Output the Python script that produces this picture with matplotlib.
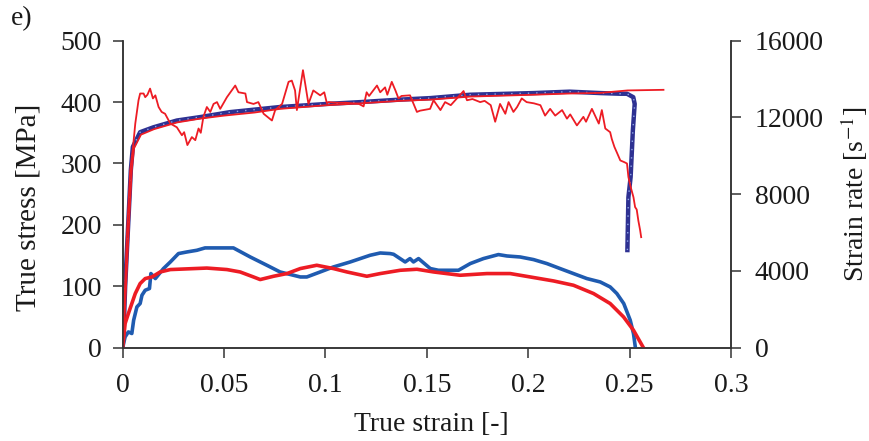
import matplotlib
matplotlib.use("Agg")
import matplotlib.pyplot as plt

plt.rcParams['font.family'] = ['Liberation Serif', 'DejaVu Serif']
plt.rcParams['mathtext.fontset'] = 'stix'

# stress curves (left axis, MPa)
blue_stress_x = [0, 0.0005, 0.0012, 0.0028, 0.004, 0.005, 0.0086, 0.0152, 0.0267, 0.0382,
                 0.0481, 0.053, 0.0776, 0.1007, 0.1173, 0.1365, 0.1517, 0.1714, 0.2026,
                 0.2204, 0.2356, 0.2454, 0.2487, 0.2518, 0.2525, 0.2516, 0.2505, 0.2494, 0.2489]
blue_stress_y = [0, 30, 99, 207, 289, 327, 351, 359, 370, 375.6,
                 381, 383.7, 392, 397, 400, 404, 406.5, 412, 414.7,
                 417, 414.7, 413.6, 413.6, 408, 397, 354, 278, 245, 159]

red_fit_x = [0, 0.0008, 0.0018, 0.0033, 0.0045, 0.0056, 0.009, 0.0155, 0.027, 0.038, 0.05,
             0.065, 0.0776, 0.1007, 0.1173, 0.1365, 0.1517, 0.1714, 0.2026, 0.2204, 0.2356,
             0.249, 0.2667]
red_fit_y = [0, 40, 110, 215, 290, 325, 347, 356, 367, 373, 378,
             383, 389, 395, 398, 402, 404, 409, 412, 414, 415,
             419, 420]

red_raw_x = [0.0004, 0.002, 0.0037, 0.0051, 0.0062, 0.0078, 0.0086, 0.0103, 0.0111, 0.0122,
             0.0135, 0.0149, 0.0161, 0.0177, 0.0192, 0.0209, 0.0235, 0.0267, 0.0292, 0.0303,
             0.0319, 0.0341, 0.0358, 0.0374, 0.0385, 0.0398, 0.0415, 0.0432, 0.0448, 0.0465,
             0.0481, 0.0514, 0.0555, 0.0571, 0.0605, 0.0613, 0.0645, 0.0669, 0.0695, 0.0736,
             0.0752, 0.0786, 0.0818, 0.0834, 0.085, 0.0859, 0.0876, 0.0889, 0.09, 0.0916,
             0.094, 0.0974, 0.0994, 0.1007, 0.1015, 0.105, 0.11, 0.1165, 0.1188, 0.1203,
             0.1215, 0.1254, 0.127, 0.1294, 0.1305, 0.1327, 0.1345, 0.136, 0.1375, 0.1417,
             0.1451, 0.1466, 0.1516, 0.1533, 0.1567, 0.159, 0.1618, 0.164, 0.1681, 0.1698,
             0.1725, 0.1763, 0.1785, 0.1815, 0.1837, 0.1861, 0.1887, 0.1903, 0.1927, 0.1945,
             0.1968, 0.1992, 0.2028, 0.206, 0.2083, 0.2108, 0.2133, 0.2167, 0.2191, 0.2207,
             0.224, 0.2272, 0.2285, 0.2314, 0.2348, 0.2363, 0.238, 0.2404, 0.2412, 0.2425,
             0.2437, 0.2454, 0.2475, 0.2487, 0.2494, 0.2505, 0.2519, 0.2527, 0.2535, 0.2543,
             0.2552, 0.2557]
red_raw_y = [28, 180, 289, 327, 365, 403, 414, 414, 408, 412,
             422, 406, 411, 392, 384, 381, 365, 359, 346, 351,
             330, 343, 338, 357, 350, 376, 392, 384, 397, 400,
             389, 408, 427, 416, 414, 400, 397, 400, 381, 370,
             387, 397, 433, 435, 419, 387, 424, 452, 430, 397,
             419, 411, 416, 398, 400, 399, 399, 397, 393, 416,
             410, 427, 416, 424, 412, 433, 419, 406, 410, 411,
             384, 386, 389, 403, 387, 400, 395, 403, 418, 403,
             405, 400, 402, 395, 368, 397, 381, 400, 384, 392,
             406, 400, 398, 395, 378, 389, 378, 387, 373, 380,
             362, 376, 368, 389, 365, 387, 357, 351, 340, 327,
             318, 305, 302, 300, 278, 262, 245, 229, 225, 207,
             191, 180]

# strain rate curves (right axis, 1/s)
blue_rate_x = [0, 0.0012, 0.0028, 0.0045, 0.0054, 0.007, 0.0086, 0.0095, 0.0111, 0.0132,
               0.0139, 0.0161, 0.0201, 0.0235, 0.0275, 0.0316, 0.0366, 0.0406, 0.0546, 0.0629,
               0.0711, 0.0776, 0.0876, 0.0908, 0.0974, 0.1039, 0.1122, 0.122, 0.127, 0.1319,
               0.1336, 0.1393, 0.1417, 0.1434, 0.1459, 0.1517, 0.1557, 0.1656, 0.1714, 0.1779,
               0.1853, 0.1895, 0.196, 0.2026, 0.2092, 0.2157, 0.2223, 0.2289, 0.2355, 0.2404,
               0.2437, 0.2471, 0.2503, 0.2519, 0.2528]
blue_rate_y = [40, 562, 823, 739, 1432, 2124, 2301, 2734, 2994, 3083,
               3863, 3603, 4124, 4468, 4905, 4988, 5077, 5200, 5200, 4728,
               4296, 3947, 3686, 3686, 3947, 4207, 4468, 4816, 4936, 4905,
               4868, 4468, 4644, 4468, 4644, 4124, 4035, 4035, 4384, 4644,
               4853, 4780, 4728, 4592, 4384, 4124, 3863, 3603, 3426, 3166,
               2822, 2301, 1432, 739, 40]

red_rate_x = [0, 0.0012, 0.0028, 0.0045, 0.0062, 0.0086, 0.0111, 0.0144, 0.0185, 0.0235,
              0.03, 0.0415, 0.0514, 0.0579, 0.0645, 0.0678, 0.0744, 0.081, 0.0876, 0.0957,
              0.1039, 0.1106, 0.1204, 0.127, 0.1369, 0.1451, 0.1533, 0.1664, 0.1796, 0.1911,
              0.201, 0.2125, 0.2223, 0.2322, 0.2404, 0.247, 0.2519, 0.2561, 0.2568]
red_rate_y = [0, 1260, 1780, 2301, 2822, 3343, 3603, 3686, 3947, 4072,
              4100, 4150, 4072, 3947, 3686, 3551, 3723, 3863, 4124, 4296,
              4124, 3947, 3723, 3863, 4035, 4088, 3947, 3775, 3863, 3863,
              3686, 3478, 3254, 2822, 2301, 1604, 911, 130, 0]

x_ticks = [0, 0.05, 0.1, 0.15, 0.2, 0.25, 0.3]
x_labels = ['0', '0.05', '0.1', '0.15', '0.2', '0.25', '0.3']
stress_ticks = [0, 100, 200, 300, 400, 500]
rate_ticks = [0, 4000, 8000, 12000, 16000]

red = '#ed1c24'
fig = plt.figure(figsize=(8.69, 4.41), dpi=100)
ax = fig.add_axes([0.1412, 0.2116, 0.700, 0.6961])
ax2 = ax.twinx()

ax.plot(blue_stress_x, blue_stress_y, color='#2e3192', lw=3.2, zorder=2)
ax.plot(blue_stress_x, blue_stress_y, color='#8fa6e6', lw=1.0, dashes=(1, 5), zorder=3)
ax.plot(red_fit_x, red_fit_y, color=red, lw=1.3, zorder=4)
ax.plot(red_raw_x, red_raw_y, color=red, lw=1.3, zorder=4)

ax2.plot(blue_rate_x, blue_rate_y, color='#1f5bb0', lw=2.6)
ax2.plot(red_rate_x, red_rate_y, color=red, lw=2.6)

ax.set_xlim(0, 0.3)
ax.set_ylim(0, 500)
ax2.set_ylim(0, 16000)
ax.set_xticks(x_ticks)
ax.set_xticklabels(x_labels)
ax.set_yticks(stress_ticks)
ax2.set_yticks(rate_ticks)

for a in (ax, ax2):
    a.spines['top'].set_visible(False)
    for s in a.spines.values():
        s.set_color('#333333')
        s.set_linewidth(1.1)
    a.tick_params(colors='#333333', labelcolor='#1a1a1a', width=1.1, length=7, labelsize=20)
ax.tick_params(axis='x', pad=11)
ax.tick_params(axis='y', pad=8)
ax2.tick_params(axis='y', pad=10)

ax.set_xlabel('True strain [-]', fontsize=20, color='#1a1a1a')
ax.set_ylabel('True stress [MPa]', fontsize=21, color='#1a1a1a')
ax2.set_ylabel(r'Strain rate [s$^{-1}$]', fontsize=20, color='#1a1a1a')
ax.xaxis.set_label_coords(0.508, -0.21)
ax.yaxis.set_label_coords(-0.133, 0.458)
ax2.yaxis.set_label_coords(1.176, 0.5)

fig.text(0.012, 0.957, 'e)', fontsize=20, color='#1a1a1a', va='center')

fig.savefig('out.png', dpi=100)
